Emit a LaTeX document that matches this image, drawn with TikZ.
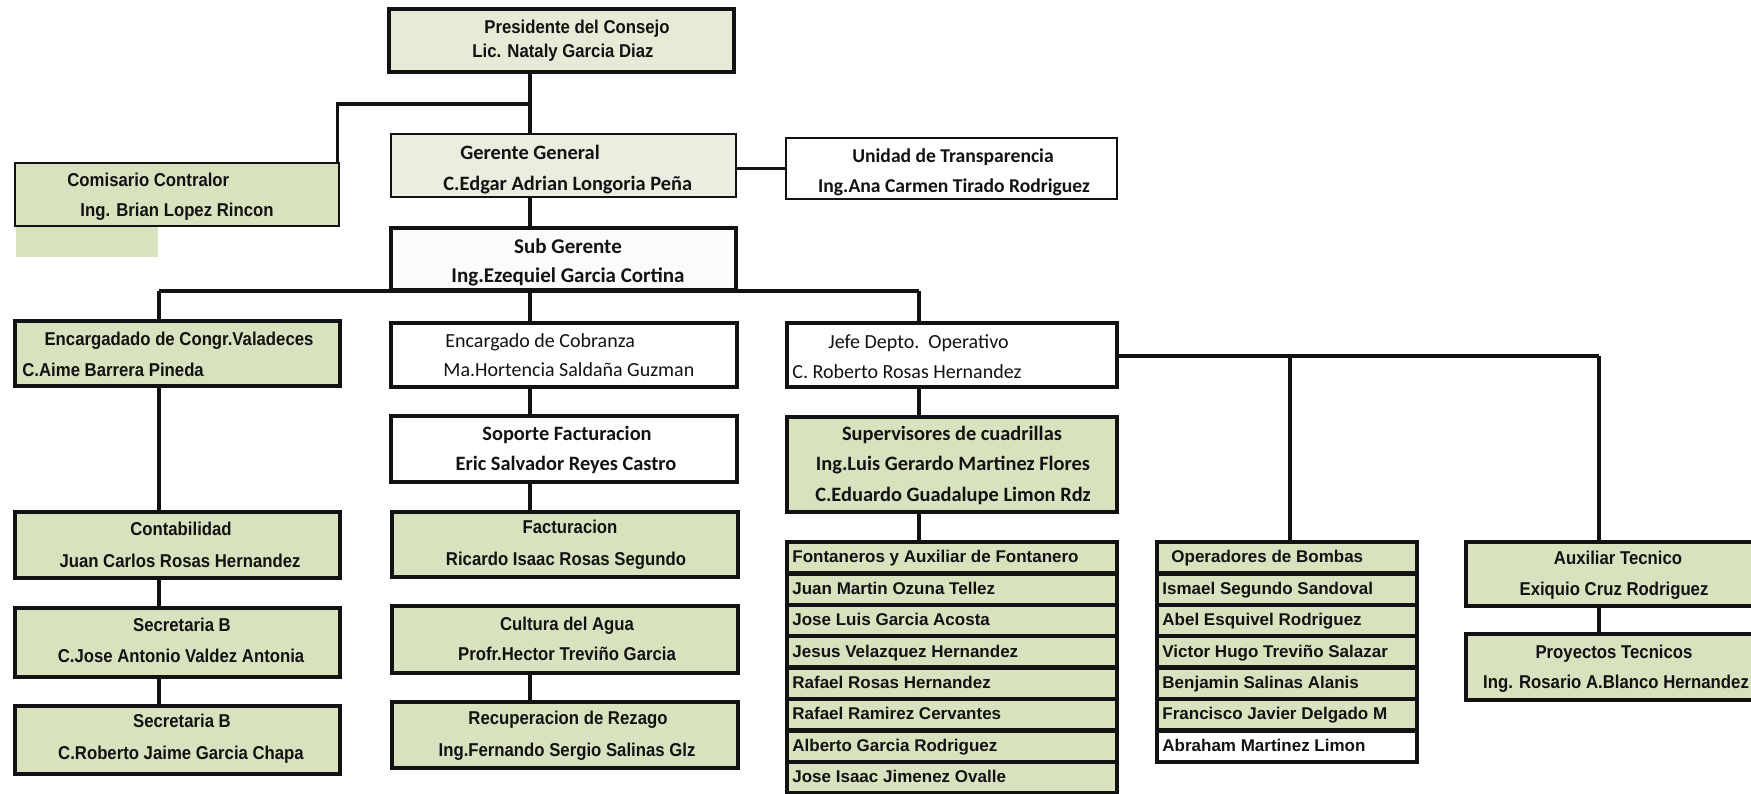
\documentclass[tikz,border=0pt]{standalone}
\usepackage{fontspec}
\setmainfont{Liberation Sans}
\newfontfamily\narrowfont[FakeStretch=0.9]{Liberation Sans}
\newfontfamily\calfont{Carlito}
\definecolor{gfill}{HTML}{D9E2BE}
\definecolor{pfill}{HTML}{E6EAD6}
\definecolor{lfill}{HTML}{EAEDDF}
\definecolor{wfill}{HTML}{FBFBF9}
\definecolor{ink}{HTML}{121212}
\newcommand\bx[6]{\node[#6, anchor=north west, minimum width={(#4-#2)*0.5pt}, minimum height={(#5-#3)*0.5pt}] (#1) at (#2,#3) {};}
\begin{document}
\begin{tikzpicture}[x=0.5pt,y=-0.5pt,
  box/.style={draw=ink, inner sep=0pt, outer sep=0pt, rectangle},
  thin/.style={box, line width=1.2pt},
  mid/.style={box, line width=1.7pt},
  thick/.style={box, line width=2.4pt},
  conn/.style={draw=ink, line width=1.6pt},
  ar/.style={font=\narrowfont\bfseries\fontsize{9.3}{11}\selectfont, inner sep=0pt, anchor=mid, text=ink},
  arl/.style={ar, anchor=mid west},
  li/.style={font=\bfseries\fontsize{8.5}{10}\selectfont, inner sep=0pt, anchor=mid west, text=ink},
  cb/.style={font=\calfont\bfseries\fontsize{10.2}{12}\selectfont, inner sep=0pt, anchor=mid, text=ink},
  cbl/.style={cb, anchor=mid west},
  crl/.style={font=\calfont\fontsize{10}{12}\selectfont, inner sep=0pt, anchor=mid west, text=ink}]
\useasboundingbox (0,0) rectangle (1751,793);
\fill[white] (0,0) rectangle (1751,793);

% boxes
\bx{pres}{389}{9}{734}{72}{mid, fill=pfill}
\bx{com}{15}{163}{339}{226}{mid, line width=1.4pt, fill=gfill}
\fill[gfill] (16,227) rectangle (158,257);
\bx{ger}{391}{134}{736}{197}{thin, line width=1.4pt, fill=lfill}
\bx{uni}{786}{138}{1117}{199}{thin, fill=white}
\bx{sub}{391}{228}{736}{290}{mid, fill=wfill}
\bx{cong}{15}{321}{340}{386}{thick, fill=gfill}
\bx{cob}{391}{323}{737}{387}{mid, line width=2pt, fill=white}
\bx{jefe}{787}{323}{1117}{387}{mid, line width=2pt, fill=white}
\bx{sop}{391}{416}{737}{482}{thick, fill=white}
\bx{supv}{787}{417}{1117}{512}{thick, fill=gfill}
\bx{cont}{15}{512}{340}{578}{thick, fill=gfill}
\bx{fact}{392}{512}{738}{577}{thick, fill=gfill}
\bx{sec1}{15}{608}{340}{677}{thick, fill=gfill}
\bx{cult}{392}{606}{738}{673}{thick, fill=gfill}
\bx{sec2}{15}{706}{340}{774}{thick, fill=gfill}
\bx{recu}{392}{702}{738}{768}{thick, fill=gfill}
\bx{aux}{1466}{542}{1764}{606}{thick, fill=gfill}
\bx{proy}{1466}{634}{1764}{700}{thick, fill=gfill}
\foreach \k in {0,...,7}{
  \pgfmathsetmacro\ya{542+31.4*\k}\pgfmathsetmacro\yb{542+31.4*(\k+1)}
  \bx{f\k}{787}{\ya}{1117}{\yb}{thick, line width=2.2pt, fill=gfill}
}
\foreach \k in {0,...,5}{
  \pgfmathsetmacro\ya{542+31.4*\k}\pgfmathsetmacro\yb{542+31.4*(\k+1)}
  \bx{o\k}{1157}{\ya}{1417}{\yb}{thick, line width=2.2pt, fill=gfill}
}
\bx{o6}{1157}{730.4}{1417}{761.8}{thick, line width=2.2pt, fill=white}

% connector coordinates
\coordinate (colx) at (530,104);
\coordinate (busL) at (159,291);
\coordinate (busR) at (919,291);
\coordinate (opR) at (1599,356);
\coordinate (opM) at (1290,356);

\draw[conn] (colx |- pres.south) -- (colx |- ger.north);
\draw[conn] (colx) -| ([xshift=-0.7pt]com.north east);
\draw[conn] (ger.east |- uni.west) -- (uni.west);
\draw[conn] (colx |- ger.south) -- (colx |- sub.north);
\draw[conn] (busL) -- (busR);
\draw[conn] (busL) -- (busL |- cong.north);
\draw[conn] (colx |- busL) -- (colx |- cob.north);
\draw[conn] (busR) -- (busR |- jefe.north);
\draw[conn] (busL |- cong.south) -- (busL |- cont.north);
\draw[conn] (busL |- cont.south) -- (busL |- sec1.north);
\draw[conn] (busL |- sec1.south) -- (busL |- sec2.north);
\draw[conn] (colx |- cob.south) -- (colx |- sop.north);
\draw[conn] (colx |- sop.south) -- (colx |- fact.north);
\draw[conn] (colx |- cult.south) -- (colx |- recu.north);
\draw[conn] (busR |- jefe.south) -- (busR |- supv.north);
\draw[conn] (busR |- supv.south) -- (busR |- f0.north);
\draw[conn] (jefe.east |- opR) -- (opR);
\draw[conn] (opM) -- (opM |- o0.north);
\draw[conn] (opR) -- (opR |- aux.north);
\draw[conn] (opR |- aux.south) -- (opR |- proy.north);

% texts
\node[ar] (t1) at (577,28) {Presidente del Consejo};
\node[ar] (t2) at (563,52) {Lic. Nataly Garcia Diaz};
\node[arl] (t3) at (67,181) {Comisario Contralor};
\node[arl] (t4) at (80,211) {Ing. Brian Lopez Rincon};
\node[cbl] (t5) at (460,154) {Gerente General};
\node[cbl] (t6) at (443,185) {C.Edgar Adrian Longoria Peña};
\node[cb, font=\calfont\bfseries\fontsize{9.8}{12}\selectfont] (t7) at (953,157) {Unidad de Transparencia};
\node[cb, font=\calfont\bfseries\fontsize{9.8}{12}\selectfont] (t8) at (954,187) {Ing.Ana Carmen Tirado Rodriguez};
\node[cb, font=\calfont\bfseries\fontsize{10.5}{12}\selectfont] (t9) at (568,248) {Sub Gerente};
\node[cb, font=\calfont\bfseries\fontsize{10.5}{12}\selectfont] (t10) at (568,277) {Ing.Ezequiel Garcia Cortina};
\node[ar] (t11) at (179,340) {Encargadado de Congr.Valadeces};
\node[arl] (t12) at (22,371) {C.Aime Barrera Pineda};
\node[crl] (t13) at (445,342) {Encargado de Cobranza};
\node[crl] (t14) at (443,371) {Ma.Hortencia Saldaña Guzman};
\node[crl] (t15) at (828,343) {Jefe Depto.\ \ Operativo};
\node[crl] (t16) at (792,373) {C. Roberto Rosas Hernandez};
\node[cb] (t17) at (567,435) {Soporte Facturacion};
\node[cb] (t18) at (566,465) {Eric Salvador Reyes Castro};
\node[cb] (t19) at (952,435) {Supervisores de cuadrillas};
\node[cb] (t20) at (953,465) {Ing.Luis Gerardo Martinez Flores};
\node[cb] (t21) at (953,496) {C.Eduardo Guadalupe Limon Rdz};
\node[ar] (t22) at (181,530) {Contabilidad};
\node[ar] (t23) at (180,562) {Juan Carlos Rosas Hernandez};
\node[ar] (t24) at (570,528) {Facturacion};
\node[ar] (t25) at (566,560) {Ricardo Isaac Rosas Segundo};
\node[ar] (t26) at (182,626) {Secretaria B};
\node[ar] (t27) at (181,657) {C.Jose Antonio Valdez Antonia};
\node[ar] (t28) at (567,625) {Cultura del Agua};
\node[ar] (t29) at (567,655) {Profr.Hector Treviño Garcia};
\node[ar] (t30) at (182,722) {Secretaria B};
\node[ar] (t31) at (181,754) {C.Roberto Jaime Garcia Chapa};
\node[ar] (t32) at (568,719) {Recuperacion de Rezago};
\node[ar] (t33) at (567,751) {Ing.Fernando Sergio Salinas Glz};
\node[ar] (t34) at (1618,559) {Auxiliar Tecnico};
\node[ar] (t35) at (1614,590) {Exiquio Cruz Rodriguez};
\node[ar] (t36) at (1614,653) {Proyectos Tecnicos};
\node[ar] (t37) at (1616,683) {Ing. Rosario A.Blanco Hernandez};
\foreach \k/\s in {0/Fontaneros y Auxiliar de Fontanero,1/Juan Martin Ozuna Tellez,2/Jose Luis Garcia Acosta,3/Jesus Velazquez Hernandez,4/Rafael Rosas Hernandez,5/Rafael Ramirez Cervantes,6/Alberto Garcia Rodriguez,7/Jose Isaac Jimenez Ovalle}{
  \node[li] (ft\k) at ([xshift=2.5pt]f\k.west) {\s};
}
\node[li] (ot0) at ([xshift=7pt]o0.west) {Operadores de Bombas};
\foreach \k/\s in {1/Ismael Segundo Sandoval,2/Abel Esquivel Rodriguez,3/Victor Hugo Treviño Salazar,4/Benjamin Salinas Alanis,5/Francisco Javier Delgado M,6/Abraham Martinez Limon}{
  \node[li] (ot\k) at ([xshift=2.5pt]o\k.west) {\s};
}
\end{tikzpicture}
\end{document}
